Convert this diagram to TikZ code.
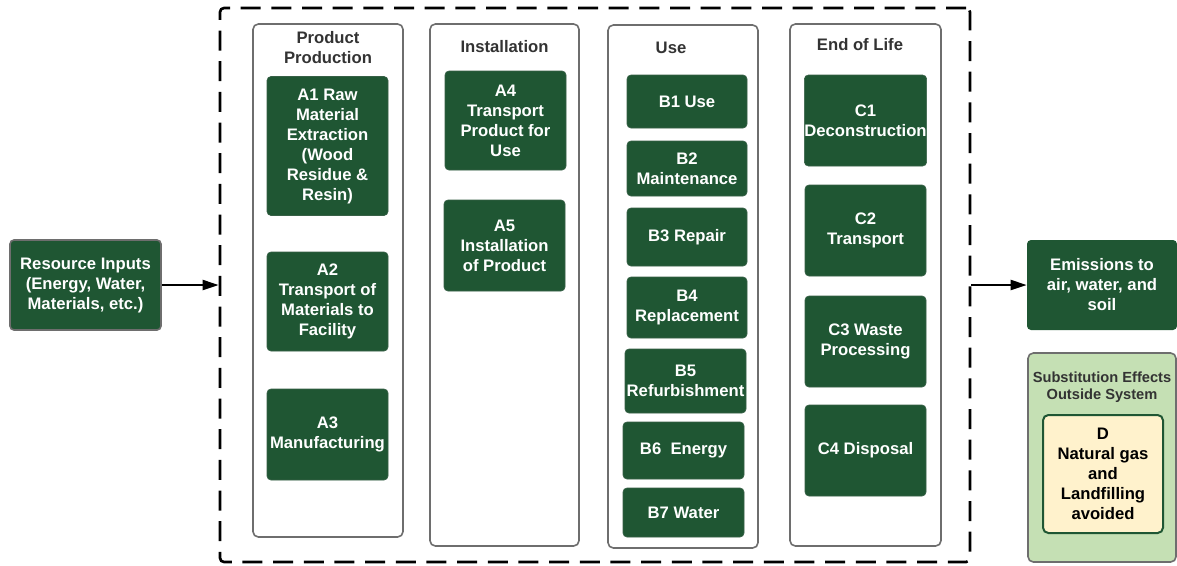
\documentclass[tikz,border=0pt]{standalone}
\usepackage{fontspec}
\setmainfont{Liberation Sans}
\usetikzlibrary{arrows.meta}

\definecolor{leaf}{RGB}{31,86,51}
\definecolor{frame}{RGB}{110,110,110}
\definecolor{sage}{RGB}{197,224,180}
\definecolor{cream}{RGB}{255,242,204}
\definecolor{ink}{RGB}{51,51,51}

\begin{document}
\begin{tikzpicture}[x=0.75pt, y=-0.75pt,
    font=\bfseries\fontsize{12.5}{15}\selectfont,
    stage/.style={draw=leaf!75!gray, line width=0.5pt, fill=leaf, text=white,
      rounded corners=3pt, align=center, inner sep=0pt, minimum width=90.75pt},
    phase/.style={draw=frame, line width=1.2pt, fill=white, rounded corners=4pt,
      inner sep=0pt},
    title/.style={text=ink, align=center},
    flow/.style={line width=1.5pt, -{Triangle[length=12pt, width=7.5pt]}}]

  \useasboundingbox (0,0) rectangle (1177,565);

  % System boundary
  \node[draw, line width=2pt, dash pattern=on 15pt off 8pt, rounded corners=3pt,
    minimum width=562.5pt, minimum height=415.5pt, inner sep=0pt] (sys) at (595,285) {};

  % Life cycle stages
  \node[phase, minimum width=112.5pt, minimum height=384.75pt] (pp) at (328,280.5) {};
  \node[phase, minimum width=111.75pt, minimum height=391.5pt] (inst) at (504.5,285) {};
  \node[phase, minimum width=112.5pt, minimum height=392.25pt] (use) at (683,286.5) {};
  \node[phase, minimum width=113.25pt, minimum height=391.5pt] (eol) at (865.5,285) {};

  \node[title] (ppt) at (328,47.5) {Product\\Production};
  \node[title] (instt) at (504.5,46.5) {Installation};
  \node[title] (uset) at (671,47.5) {Use};
  \node[title] (eolt) at (860,44.5) {End of Life};

  % Product production
  \node[stage, minimum height=104.25pt] (a1) at (327.5,146)
    {A1 Raw\\Material\\Extraction\\(Wood\\Residue \&\\Resin)};
  \node[stage, minimum height=74.25pt] (a2) at (327.5,301.5)
    {A2\\Transport of\\Materials to\\Facility};
  \node[stage, minimum height=68.25pt] (a3) at (327.5,434.5) {A3\\Manufacturing};

  % Installation
  \node[stage, minimum height=74.25pt] (a4) at (505.5,120.5) {A4\\Transport\\Product for\\Use};
  \node[stage, minimum height=68.25pt] (a5) at (504.5,245.5) {A5\\Installation\\of Product};

  % Use
  \node[stage, minimum width=90pt, minimum height=39.75pt] (b1) at (687,101.5) {B1 Use};
  \node[stage, minimum width=90pt, minimum height=41.25pt] (b2) at (687,168.5) {B2\\Maintenance};
  \node[stage, minimum width=90pt, minimum height=43.5pt] (b3) at (687,237) {B3 Repair};
  \node[stage, minimum width=90pt, minimum height=45.75pt] (b4) at (687,307.5) {B4\\Replacement};
  \node[stage, minimum height=48pt] (b5) at (685.5,381) {B5\\Refurbishment};
  \node[stage, minimum height=42.75pt] (b6) at (683.5,450.5) {B6~~Energy};
  \node[stage, minimum height=36.75pt] (b7) at (683.5,512.5) {B7 Water};

  % End of life
  \node[stage, minimum height=68.25pt] (c1) at (865.5,120.5) {C1\\Deconstruction};
  \node[stage, minimum height=68.25pt] (c2) at (865.5,230.5) {C2\\Transport};
  \node[stage, minimum height=68.25pt] (c3) at (865.5,341.5) {C3 Waste\\Processing};
  \node[stage, minimum height=68.25pt] (c4) at (865.5,450.5) {C4 Disposal};

  % Inputs and outputs
  \node[stage, draw=frame, line width=1.2pt, minimum width=113.25pt, minimum height=67.5pt]
    (res) at (85.5,285) {Resource Inputs\\(Energy, Water,\\Materials, etc.)};
  \node[stage, draw=none, minimum width=112.5pt, minimum height=67.5pt]
    (emis) at (1102,285) {Emissions to\\air, water, and\\soil};

  \draw[flow] (res) -- (sys.west);
  \draw[flow] (sys.east) -- (emis);

  % Module D
  \node[draw=frame, line width=1.2pt, fill=sage, rounded corners=4pt, inner sep=0pt,
    minimum width=111pt, minimum height=156.75pt] (sub) at (1102,457.5) {};
  \node[title, font=\bfseries\fontsize{11}{12.75}\selectfont] (subt) at (1102,387)
    {Substitution Effects\\Outside System};
  \node[draw=leaf, line width=1.5pt, fill=cream, rounded corners=4pt, align=center,
    inner sep=0pt, minimum width=90pt, minimum height=88.5pt] (d) at (1103,474)
    {D\\Natural gas\\and\\Landfilling\\avoided};

\end{tikzpicture}
\end{document}
